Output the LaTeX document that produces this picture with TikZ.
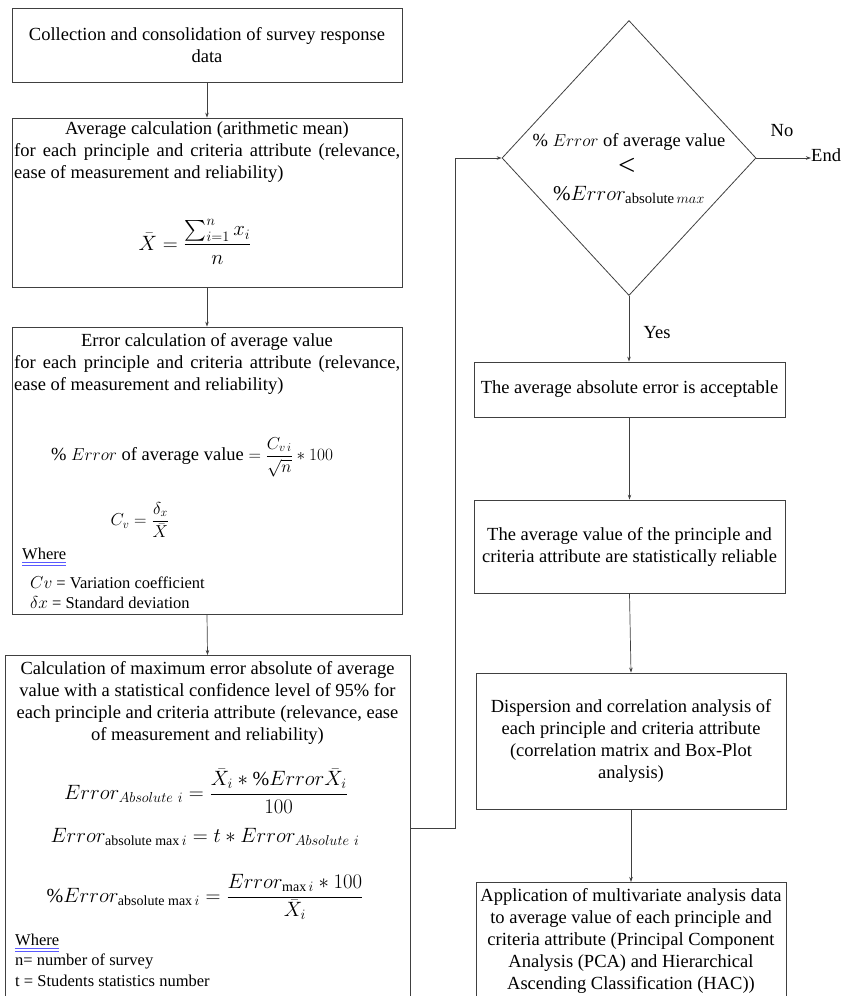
\documentclass[tikz,border=0pt]{standalone}
\usepackage{amsmath}
\usepackage{fontspec}
\setmainfont{Liberation Serif}
\usepackage{tikz}
\usetikzlibrary{shapes.geometric, arrows.meta, positioning, calc}

\tikzset{
  box/.style={draw=black!75, line width=0.8pt, inner sep=0pt},
  txt/.style={inner sep=0pt, font=\fontsize{18.5}{22}\selectfont, align=center},
  para/.style={inner sep=0pt, text width=386pt, align=justify,
    font=\fontsize{18.5}{22}\selectfont,
    execute at begin node={\hyphenpenalty=10000 \tolerance=9999 }},
  eq/.style={inner sep=0pt, font=\fontsize{20}{24}\selectfont},
  lbl/.style={inner sep=0pt, anchor=west, font=\fontsize{16.5}{20}\selectfont},
  flow/.style={draw=black!75, line width=0.7pt, -{Stealth[length=5pt, width=3.5pt]}},
  spellmark/.style={draw=blue!65, line width=0.9pt}
}

\begin{document}
\begin{tikzpicture}[x=1pt, y=-1pt]
    \useasboundingbox (0,0) rectangle (843,996);

    % --- Left column ---
    \node[box, txt, minimum width=390pt, minimum height=74pt] (collect) at (207,45)
        {Collection and consolidation of survey response\\data};

    % Average value box
    \node[box, minimum width=390pt, minimum height=169pt] (avg) at (207,202.5) {};
    \node[txt] (avghead) at (207,130) {Average calculation (arithmetic mean)};
    \node[para, anchor=north west] (avgpara) at (14,143)
        {for each principle and criteria attribute (relevance, ease of measurement and reliability)};
    \node[eq, font=\fontsize{21}{24}\selectfont] (avgeq) at (195,242)
        {$\displaystyle \bar{X} = \frac{\sum_{i=1}^{n} x_i}{n}$};

    % Error of average box
    \node[box, minimum width=390pt, minimum height=287pt] (err) at (207,470.5) {};
    \node[txt] (errhead) at (207,342) {Error calculation of average value};
    \node[para, anchor=north west] (errpara) at (14,355)
        {for each principle and criteria attribute (relevance, ease of measurement and reliability)};
    \node[eq, font=\fontsize{18.5}{22}\selectfont] (erreq) at (192,457)
        {$\%\ Error$ of average value $\displaystyle = \frac{C_{v\,i}}{\sqrt{n}} * 100$};
    \node[eq, font=\fontsize{18.5}{22}\selectfont] (cveq) at (140,520)
        {$\displaystyle C_v = \frac{\delta_x}{\bar{X}}$};
    \node[lbl] (errwhere) at (22,554) {Where};
    \draw[spellmark] ([yshift=-2.5pt]errwhere.south west) -- ([yshift=-2.5pt]errwhere.south east);
    \draw[spellmark] ([yshift=-5pt]errwhere.south west) -- ([yshift=-5pt]errwhere.south east);
    \node[lbl] (cvdef) at (30,583) {$Cv$ = Variation coefficient};
    \node[lbl] (sddef) at (30,603) {$\delta x$ = Standard deviation};

    % Maximum absolute error box
    \node[box, minimum width=405pt, minimum height=360pt, anchor=north] (calc) at (207.5,655) {};
    \node[txt] (calchead) at (207.5,703)
        {Calculation of maximum error absolute of average\\
         value with a statistical confidence level of 95\% for\\
         each principle and criteria attribute (relevance, ease\\
         of measurement and reliability)};
    \node[eq] (abseq) at (206,791)
        {$\displaystyle Error_{Absolute\ i} = \frac{\bar{X}_i * \%Error\bar{X}_i}{100}$};
    \node[eq] (maxeq) at (205,837) {$Error_{\text{absolute max}\,i} = t * Error_{Absolute\ i}$};
    \node[eq] (pcteq) at (205,897)
        {$\displaystyle \%Error_{\text{absolute max}\,i} = \frac{Error_{\text{max}\,i} * 100}{\bar{X}_i}$};
    \node[lbl] (calcwhere) at (15,940) {Where};
    \draw[spellmark] ([yshift=-2.5pt]calcwhere.south west) -- ([yshift=-2.5pt]calcwhere.south east);
    \draw[spellmark] ([yshift=-5pt]calcwhere.south west) -- ([yshift=-5pt]calcwhere.south east);
    \node[lbl] (ndef) at (15,961) {n= number of survey};
    \node[lbl] (tdef) at (15,981) {t = Students statistics number};

    % --- Decision ---
    \node[draw=black!75, line width=0.8pt, diamond, minimum width=254pt, minimum height=275pt,
          inner sep=0pt] (dec) at (629,158) {};
    \node[txt] (dectop) at (629,142) {$\%\ Error$ of average value};
    \node[inner sep=0pt] (declt) at (627,165) {\fontsize{22}{22}\selectfont$\boldsymbol{<}$};
    \node[eq, font=\fontsize{21}{24}\selectfont] (decbot) at (629,195) {$\%Error_{\text{absolute}\,max}$};
    \node[txt] (nolbl) at (782,131) {No};
    \node[txt, anchor=west] (endlbl) at (811,155) {End};
    \node[txt] (yeslbl) at (657,333) {Yes};

    % --- Right column ---
    \node[box, txt, minimum width=311pt, minimum height=55pt] (ok) at (629.5,389.5)
        {The average absolute error is acceptable};
    \node[box, txt, minimum width=311pt, minimum height=93pt] (reliable) at (629.5,546.5)
        {The average value of the principle and\\criteria attribute are statistically reliable};
    \node[box, txt, minimum width=310pt, minimum height=136pt] (disp) at (631,741)
        {Dispersion and correlation analysis of\\each principle and criteria attribute\\
         (correlation matrix and Box-Plot\\analysis)};
    \node[box, minimum width=310pt, minimum height=130pt, anchor=north] (multi) at (631,882) {};
    \node[txt, anchor=north] (multitxt) at (631,888)
        {Application of multivariate analysis data\\to average value of each principle and\\
         criteria attribute (Principal Component\\Analysis (PCA) and Hierarchical\\
         Ascending Classification (HAC))};

    % --- Connectors ---
    \draw[flow] (collect.south) -- (avg.north);
    \draw[flow] (avg.south) -- (err.north);
    \draw[flow] (err.south) -- (calc.north);
    \coordinate (back) at (455,828);
    \draw[flow] (back -| calc.east) -- (back) |- (dec.west);
    \draw[flow] (dec.east) -- (dec.east -| endlbl.west);
    \draw[flow] (dec.south) -- (dec.south |- ok.north);
    \draw[flow] (ok.south) -- (reliable.north);
    \draw[flow] (reliable.south) -- (disp.north);
    \draw[flow] (disp.south) -- (multi.north);
\end{tikzpicture}
\end{document}
